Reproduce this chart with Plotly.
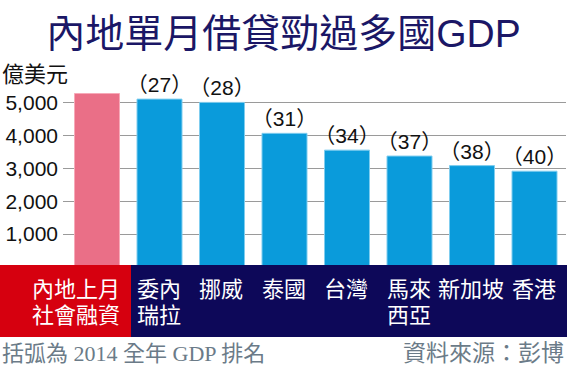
import plotly.graph_objects as go

# ---- data ----
categories = ["內地上月社會融資", "委內瑞拉", "挪威", "泰國", "台灣", "馬來西亞", "新加坡", "香港"]
label_line1 = ["內地上月", "委內", "挪威", "泰國", "台灣", "馬來", "新加坡", "香港"]
label_line2 = ["社會融資", "瑞拉", "", "", "", "西亞", "", ""]
values = [5270, 5100, 5000, 4060, 3550, 3370, 3080, 2910]   # 億美元
gdp_rank = ["", "（27）", "（28）", "（31）", "（34）", "（37）", "（38）", "（40）"]
y_ticks = [1000, 2000, 3000, 4000, 5000]

W, H = 567, 370
L, R, T, B = 63, 1, 90, 103
PW, PH = W - L - R, H - T - B

def px(x):  # page pixel -> paper x
    return (x - L) / PW

def py(y):  # page pixel -> paper y
    return (H - B - y) / PH

PINK = "#EA6F87"
BLUE = "#0A9BDB"
RED = "#D6000F"
NAVY = "#0D0859"
CJK = "Noto Sans CJK TC, Noto Sans, sans-serif"
LAT_CJK = "Liberation Sans, Noto Sans CJK TC, sans-serif"
SERIF = "Liberation Serif, Noto Sans CJK TC, serif"

colors = [PINK] + [BLUE] * (len(values) - 1)
edge = ["#F7A9B8"] + ["#7FCDEF"] * (len(values) - 1)

fig = go.Figure()
fig.add_trace(go.Bar(
    x=list(range(len(categories))), y=values,
    marker=dict(color=colors, line=dict(color=edge, width=1)),
    width=0.72,
    text=gdp_rank, textposition="outside",
    outsidetextfont=dict(family=LAT_CJK, size=21, color="#111111"),
    constraintext="none", cliponaxis=False,
    hoverinfo="skip",
))

shapes = [
    dict(type="rect", xref="paper", yref="paper", x0=px(0), x1=px(131),
         y0=py(337), y1=py(265), fillcolor=RED, line=dict(width=0), layer="above"),
    dict(type="rect", xref="paper", yref="paper", x0=px(131), x1=px(W),
         y0=py(337), y1=py(265), fillcolor=NAVY, line=dict(width=0), layer="above"),
]

annotations = []
for i, (l1, l2) in enumerate(zip(label_line1, label_line2)):
    shift = -21 if i == 0 else -1
    annotations.append(dict(x=i, xref="x", y=py(287), yref="paper", text=l1,
                            showarrow=False, xanchor="center", yanchor="middle", xshift=shift,
                            font=dict(family=CJK, size=22, color="white")))
    if l2:
        annotations.append(dict(x=i, xref="x", y=py(313), yref="paper", text=l2,
                                showarrow=False, xanchor="center", yanchor="middle", xshift=shift,
                                font=dict(family=CJK, size=22, color="white")))

annotations += [
    dict(x=px(0), y=py(72), xref="paper", yref="paper", text="億美元", showarrow=False,
         xanchor="left", yanchor="middle", font=dict(family=CJK, size=22, color="#111111")),
    dict(x=px(0), y=py(353), xref="paper", yref="paper", text="括弧為 2014 全年 GDP 排名",
         showarrow=False, xanchor="left", yanchor="middle",
         font=dict(family=SERIF, size=22, color="#6B7B88")),
    dict(x=px(566), y=py(353), xref="paper", yref="paper", text="資料來源：彭博",
         showarrow=False, xanchor="right", yanchor="middle",
         font=dict(family=SERIF, size=23, color="#6B7B88")),
]

fig.update_layout(
    width=W, height=H,
    margin=dict(l=L, r=R, t=T, b=B),
    paper_bgcolor="white", plot_bgcolor="white",
    showlegend=False,
    title=dict(text="內地單月借貸勁過多國GDP", x=0.5, xref="container", xanchor="center",
               y=1 - 33 / H, yref="container", yanchor="middle",
               font=dict(family=LAT_CJK, size=39, color="#1B1766", weight=400)),
    xaxis=dict(range=[-0.544, 7.504], showticklabels=False, showgrid=False,
               zeroline=False, showline=False, ticks=""),
    yaxis=dict(range=[0, 5000 * PH / (267 - 102.4)], tickvals=y_ticks, tickformat=",",
               showgrid=True, gridcolor="#9A9A9A", gridwidth=1, zeroline=False,
               showline=False, ticks="", ticklabelstandoff=4,
               tickfont=dict(family="Liberation Sans, Arial", size=21, color="#111111")),
    shapes=shapes,
    annotations=annotations,
    bargap=0.28,
)

fig.write_html("out.html", config={"displayModeBar": False},
               post_script="document.body.style.margin='0';document.body.style.overflow='hidden';")
